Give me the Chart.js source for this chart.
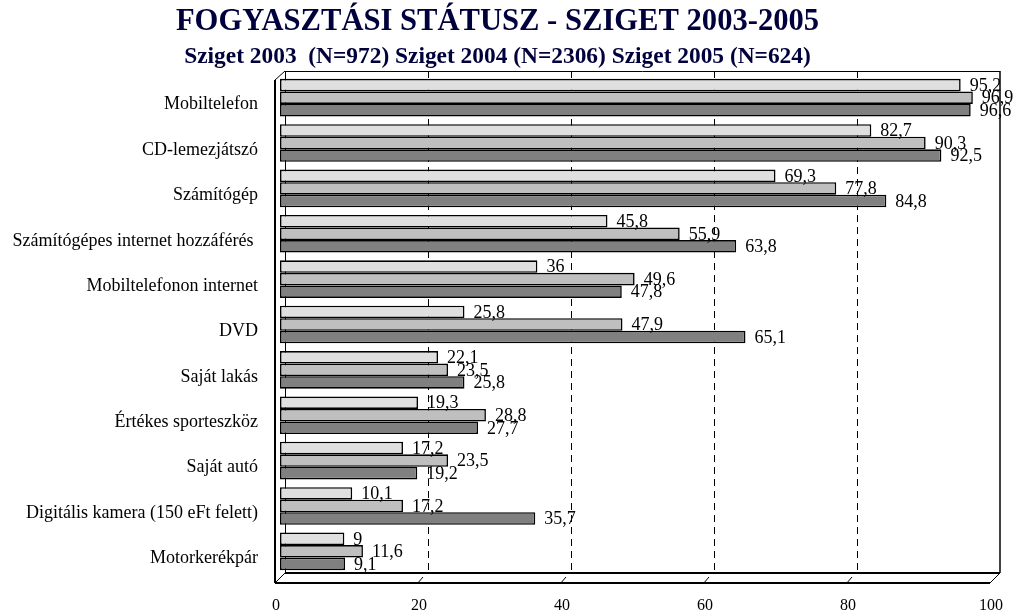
<!DOCTYPE html>
<html>
<head>
<meta charset="utf-8">
<script src="https://cdn.jsdelivr.net/npm/chart.js@4"></script>
<style>
  html, body { margin: 0; padding: 0; background: #fff; }
  #wrap { width: 1016px; height: 614px; }
</style>
</head>
<body>
<div id="wrap"><canvas id="c" width="1016" height="614"></canvas></div>
<script>
const categories = [
  "Mobiltelefon",
  "CD-lemezjátszó",
  "Számítógép",
  "Számítógépes internet hozzáférés ",
  "Mobiltelefonon internet",
  "DVD",
  "Saját lakás",
  "Értékes sporteszköz",
  "Saját autó",
  "Digitális kamera (150 eFt felett)",
  "Motorkerékpár"
];
const sziget2003 = [95.2, 82.7, 69.3, 45.8, 36, 25.8, 22.1, 19.3, 17.2, 10.1, 9];
const sziget2004 = [96.9, 90.3, 77.8, 55.9, 49.6, 47.9, 23.5, 28.8, 23.5, 17.2, 11.6];
const sziget2005 = [96.6, 92.5, 84.8, 63.8, 47.8, 65.1, 25.8, 27.7, 19.2, 35.7, 9.1];
const xTicks = [0, 20, 40, 60, 80, 100];
const titleText = "FOGYASZTÁSI STÁTUSZ - SZIGET 2003-2005";
const subtitleText = "Sziget 2003  (N=972) Sziget 2004 (N=2306) Sziget 2005 (N=624)";

const SERIF = "'Liberation Serif', 'Times New Roman', serif";

const framePlugin = {
  id: 'frame3d',
  beforeDatasetsDraw(chart) {
    const ctx = chart.ctx;
    const xs = chart.scales.x;
    const a = chart.chartArea;
    const back = v => xs.getPixelForValue(v) + 5;
    const front = v => xs.getPixelForValue(v) - 5;
    const topB = a.top - 4, botB = a.bottom - 1, botF = a.bottom + 9, topF = a.top + 5;
    ctx.save();
    ctx.strokeStyle = '#000';
    ctx.lineWidth = 1;
    ctx.setLineDash([7, 5]);
    xTicks.slice(1, -1).forEach(v => {
      const x = Math.round(back(v)) + 0.5;
      ctx.beginPath(); ctx.moveTo(x, topB); ctx.lineTo(x, botB); ctx.stroke();
    });
    ctx.setLineDash([]);
    ctx.beginPath();
    ctx.moveTo(back(0), topB + 0.5); ctx.lineTo(back(100), topB + 0.5);
    ctx.stroke();
    ctx.lineWidth = 1.5;
    ctx.beginPath();
    ctx.moveTo(back(100), topB); ctx.lineTo(back(100), botB);
    ctx.stroke();
    ctx.lineWidth = 1;
    ctx.beginPath();
    ctx.moveTo(back(0) + 0.5, topB); ctx.lineTo(back(0) + 0.5, botB);
    ctx.moveTo(front(0), topF); ctx.lineTo(back(0), topB);
    ctx.moveTo(front(0), botF); ctx.lineTo(back(0), botB);
    ctx.stroke();
    ctx.lineWidth = 2;
    ctx.beginPath();
    ctx.moveTo(front(0), topF); ctx.lineTo(front(0), botF);
    ctx.stroke();
    ctx.lineWidth = 2;
    ctx.beginPath();
    ctx.moveTo(back(0), botB); ctx.lineTo(back(100), botB);
    ctx.moveTo(front(0), botF); ctx.lineTo(front(100), botF);
    ctx.stroke();
    ctx.lineWidth = 1;
    ctx.beginPath();
    ctx.moveTo(front(100), botF); ctx.lineTo(back(100), botB);
    xTicks.slice(1, -1).forEach(v => {
      ctx.moveTo(front(v) - 1, botF + 1); ctx.lineTo(front(v) + 5, botF - 6);
    });
    ctx.stroke();
    ctx.restore();
  },
  afterDatasetsDraw(chart) {
    const ctx = chart.ctx;
    ctx.save();
    ctx.fillStyle = '#000';
    ctx.font = "18px " + SERIF;
    ctx.textAlign = 'left';
    ctx.textBaseline = 'middle';
    chart.data.datasets.forEach((ds, di) => {
      const meta = chart.getDatasetMeta(di);
      meta.data.forEach((el, i) => {
        const txt = String(ds.data[i]).replace('.', ',');
        ctx.fillText(txt, el.x + 9, el.y + 1);
      });
    });
    ctx.restore();
  }
};

new Chart(document.getElementById('c'), {
  type: 'bar',
  data: {
    labels: categories,
    datasets: [
      { label: 'Sziget 2003', data: sziget2003, backgroundColor: '#dfdfdf' },
      { label: 'Sziget 2004', data: sziget2004, backgroundColor: '#bfbfbf' },
      { label: 'Sziget 2005', data: sziget2005, backgroundColor: '#808080' }
    ]
  },
  options: {
    indexAxis: 'y',
    responsive: false,
    animation: false,
    devicePixelRatio: 1,
    layout: { padding: { left: 0, right: 21, top: 0, bottom: 0 } },
    datasets: {
      bar: {
        borderColor: '#000',
        borderWidth: 1.6,
        borderSkipped: false,
        categoryPercentage: 0.83,
        barPercentage: 1.0
      }
    },
    plugins: {
      legend: { display: false },
      tooltip: { enabled: false },
      title: {
        display: true,
        text: titleText,
        color: '#00003c',
        font: { family: SERIF, size: 30.6, weight: 'bold', lineHeight: 1.0 },
        padding: { top: 7, bottom: 5 }
      },
      subtitle: {
        display: true,
        text: subtitleText,
        color: '#00003c',
        font: { family: SERIF, size: 23.4, weight: 'bold', lineHeight: 1.0 },
        padding: { top: 3, bottom: 6 }
      }
    },
    scales: {
      x: {
        type: 'linear',
        min: 0, max: 100,
        afterFit(scale) { scale.height = 40; scale.paddingLeft = 0; scale.paddingRight = 0; },
        afterBuildTicks(scale) { scale.ticks = xTicks.map(v => ({ value: v })); },
        grid: { display: false, drawTicks: false },
        border: { display: false },
        ticks: {
          autoSkip: false, maxRotation: 0,
          color: '#000',
          font: { family: SERIF, size: 16 },
          padding: 22,
          labelOffset: -4
        }
      },
      y: {
        afterFit(scale) { scale.width = 280; scale.paddingTop = 0; scale.paddingBottom = 0; },
        grid: { display: false, drawTicks: false },
        border: { display: false },
        ticks: {
          autoSkip: false,
          color: '#000',
          font: { family: SERIF, size: 18 },
          padding: 22,
          labelOffset: 7
        }
      }
    }
  },
  plugins: [framePlugin]
});
</script>
</body>
</html>
